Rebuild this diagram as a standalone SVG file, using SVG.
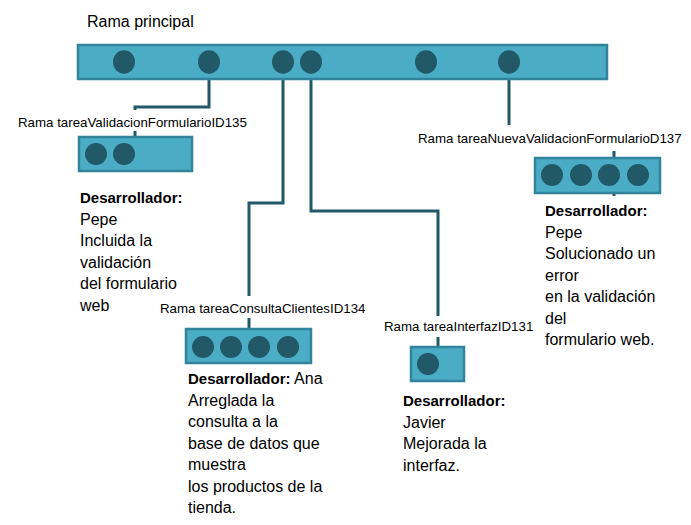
<svg xmlns="http://www.w3.org/2000/svg" width="691" height="525" viewBox="0 0 691 525">
<style>
.box{fill:#4BACC6;stroke:#31849B;stroke-width:2.5}
.dot{fill:#215968}
.con{fill:none;stroke:#215968;stroke-width:3}
.lbl{font-family:"Liberation Sans",Arial,sans-serif;font-size:13.3px;fill:#000}
.title{font-family:"Liberation Sans",Arial,sans-serif;font-size:16px;fill:#000}
.txt{font-family:"Liberation Sans",Arial,sans-serif;font-size:16px;fill:#000}
.b{font-weight:bold;font-size:15px}
</style>
<rect width="691" height="525" fill="#fff"/>
<g id="connectors">
<polyline class="con" points="209,62 209,107 135,107 135,110"/>
<polyline class="con" points="135,131 135,138"/>
<polyline class="con" points="283,62 283,203 249,203 249,296"/>
<polyline class="con" points="249,318 249,329"/>
<polyline class="con" points="311,62 311,211 438,211 438,316"/>
<polyline class="con" points="438,337 438,348"/>
<polyline class="con" points="509,62 509,125"/>
<polyline class="con" points="614,151 614,196"/>
</g>
<g id="main">
<text class="title" x="87" y="27">Rama principal</text>
<rect class="box" x="78" y="45" width="529" height="34"/>
<ellipse class="dot" cx="124" cy="62" rx="11" ry="11.7"/>
<ellipse class="dot" cx="209" cy="62" rx="11" ry="11.7"/>
<ellipse class="dot" cx="283" cy="62" rx="11" ry="11.7"/>
<ellipse class="dot" cx="311" cy="62" rx="11" ry="11.7"/>
<ellipse class="dot" cx="426" cy="62" rx="11" ry="11.7"/>
<ellipse class="dot" cx="509" cy="62" rx="11" ry="11.7"/>
</g>
<g id="branch135">
<text class="lbl" x="18" y="127">Rama tareaValidacionFormularioID135</text>
<rect class="box" x="79" y="137" width="113" height="34"/>
<circle class="dot" cx="96" cy="154" r="11"/>
<circle class="dot" cx="124" cy="154" r="11"/>
<text class="txt" x="80" y="203"><tspan class="b">Desarrollador:</tspan><tspan x="80" dy="21.5">Pepe</tspan><tspan x="80" dy="21.5">Incluida la</tspan><tspan x="80" dy="21.5">validación</tspan><tspan x="80" dy="21.5">del formulario</tspan><tspan x="80" dy="21.5">web</tspan></text>
</g>
<g id="branch134">
<text class="lbl" x="160" y="313">Rama tareaConsultaClientesID134</text>
<rect class="box" x="186" y="329" width="125" height="34"/>
<circle class="dot" cx="203" cy="347" r="11"/>
<circle class="dot" cx="231" cy="347" r="11"/>
<circle class="dot" cx="259" cy="347" r="11"/>
<circle class="dot" cx="288" cy="347" r="11"/>
<text class="txt" x="188" y="384"><tspan class="b">Desarrollador:</tspan><tspan> Ana</tspan><tspan x="188" dy="21.5">Arreglada la</tspan><tspan x="188" dy="21.5">consulta a la</tspan><tspan x="188" dy="21.5">base de datos que</tspan><tspan x="188" dy="21.5">muestra</tspan><tspan x="188" dy="21.5">los productos de la</tspan><tspan x="188" dy="21.5">tienda.</tspan></text>
</g>
<g id="branch131">
<text class="lbl" x="384" y="331">Rama tareaInterfazID131</text>
<rect class="box" x="411" y="347" width="53" height="34"/>
<circle class="dot" cx="428" cy="364" r="11"/>
<text class="txt" x="403" y="406"><tspan class="b">Desarrollador:</tspan><tspan x="403" dy="21.5">Javier</tspan><tspan x="403" dy="21.5">Mejorada la</tspan><tspan x="403" dy="21.5">interfaz.</tspan></text>
</g>
<g id="branch137">
<text class="lbl" x="418" y="143">Rama tareaNuevaValidacionFormularioD137</text>
<rect class="box" x="535" y="158" width="125" height="35"/>
<circle class="dot" cx="552" cy="175" r="11"/>
<circle class="dot" cx="581" cy="175" r="11"/>
<circle class="dot" cx="609" cy="175" r="11"/>
<circle class="dot" cx="638" cy="175" r="11"/>
<text class="txt" x="545" y="216"><tspan class="b">Desarrollador:</tspan><tspan x="545" dy="21.5">Pepe</tspan><tspan x="545" dy="21.5">Solucionado un</tspan><tspan x="545" dy="21.5">error</tspan><tspan x="545" dy="21.5">en la validación</tspan><tspan x="545" dy="21.5">del</tspan><tspan x="545" dy="21.5">formulario web.</tspan></text>
</g>
</svg>
